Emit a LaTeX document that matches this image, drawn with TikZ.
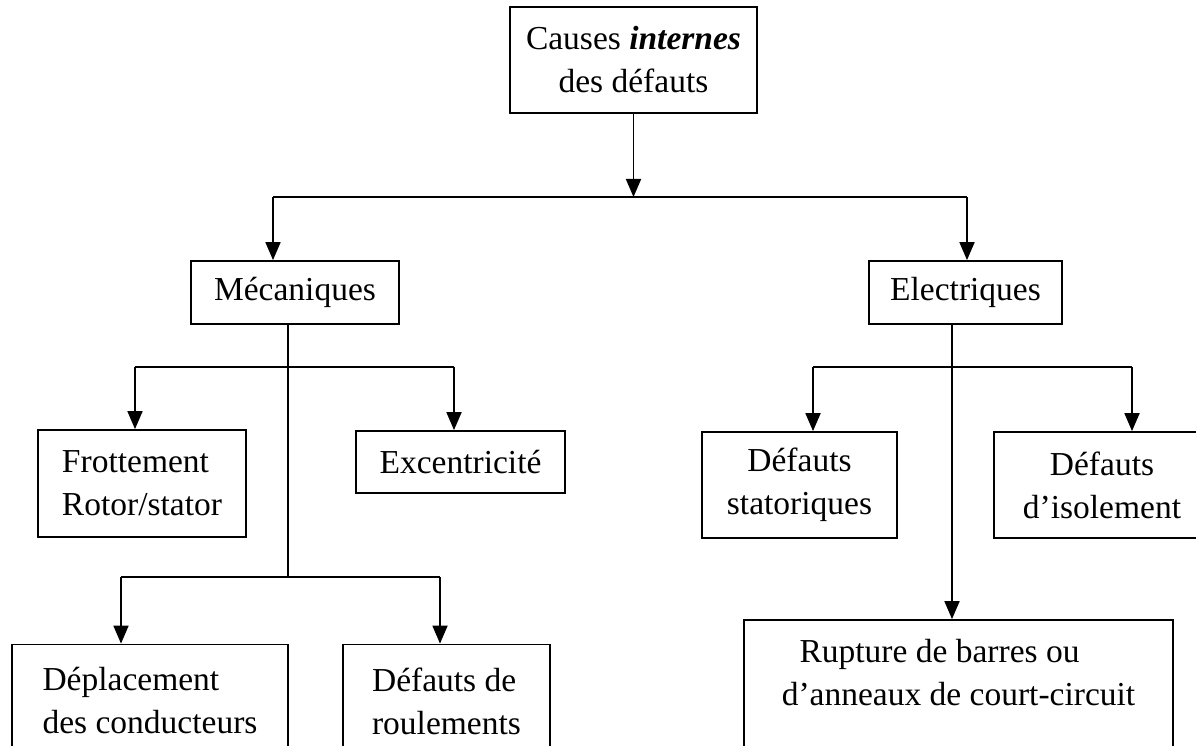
\documentclass[tikz,border=0pt]{standalone}
\usepackage{fontspec}
\setmainfont{Liberation Serif}
\usepackage{tikz}
\usetikzlibrary{arrows.meta,positioning,calc}
\tikzset{
  box/.style={draw, line width=1.8pt, rectangle, inner sep=0pt, align=center, font=\fontsize{33.5}{43}\selectfont},
  boxleft/.style={box, align=left},
  link/.style={line width=1.8pt},
  arrow/.style={link, -{Triangle[length=18pt,width=15pt]}},
}

\begin{document}
\begin{tikzpicture}[x=1pt,y=1pt]
  \useasboundingbox (0,0) rectangle (1196,-746);
  \clip (0,0) rectangle (1196,-746);

  % Root
  \node[box, minimum width=247, minimum height=106] (root) at (633.5,-60) {Causes \textbf{\textit{internes}}\\des défauts};

  % Families
  \node[box, minimum width=208, minimum height=63] (meca) at (295,-292.5) {Mécaniques};
  \node[box, minimum width=193, minimum height=63] (elec) at (965.5,-292.5) {Electriques};

  % Mechanical causes
  \node[boxleft, minimum width=208, minimum height=107] (frot) at (142,-483.5) {Frottement\\Rotor/stator};
  \node[box, minimum width=209, minimum height=62] (exc) at (460.5,-462) {Excentricité};
  \node[boxleft, minimum width=276, minimum height=113] (depl) at (150,-701) {Déplacement\\des conducteurs};
  \node[boxleft, minimum width=207, minimum height=113] (roul) at (446.5,-701) {Défauts de\\roulements};

  % Electrical causes
  \node[box, minimum width=195, minimum height=106] (stat) at (799.5,-485) {Défauts\\statoriques};
  \node[box, minimum width=216, minimum height=106] (isol) at (1102,-485) {Défauts\\d’isolement};
  \node[box, minimum width=429, minimum height=190] (rupt) at (958.5,-715) {Rupture de barres ou\hspace*{38pt}\\d’anneaux de court-circuit\hspace*{38pt}\\~\\~};

  % Bus points
  \coordinate (busL) at (273,-197);
  \coordinate (busR) at (967,-197);
  \coordinate (mecaA) at (288,-367);
  \coordinate (mecaB) at (288,-577);
  \coordinate (elecA) at (952,-367);
  \coordinate (frotA) at (135,-367);
  \coordinate (excA) at (454,-367);
  \coordinate (deplA) at (121,-577);
  \coordinate (roulA) at (440,-577);
  \coordinate (statA) at (813,-367);
  \coordinate (isolA) at (1132,-367);

  % Root to families
  \draw[arrow] (root.south) -- (root.south |- busL);
  \draw[link] (busL) -- (busR);
  \draw[arrow] (busL) -- (busL |- meca.north);
  \draw[arrow] (busR) -- (busR |- elec.north);

  % Mechanical branch
  \draw[link] (meca.south -| mecaA) -- (mecaB);
  \draw[link] (frotA) -- (excA);
  \draw[arrow] (frotA) -- (frotA |- frot.north);
  \draw[arrow] (excA) -- (excA |- exc.north);
  \draw[link] (deplA) -- (roulA);
  \draw[arrow] (deplA) -- (deplA |- depl.north);
  \draw[arrow] (roulA) -- (roulA |- roul.north);

  % Electrical branch
  \draw[arrow] (elec.south -| elecA) -- (rupt.north -| elecA);
  \draw[link] (statA) -- (isolA);
  \draw[arrow] (statA) -- (statA |- stat.north);
  \draw[arrow] (isolA) -- (isolA |- isol.north);
\end{tikzpicture}
\end{document}
